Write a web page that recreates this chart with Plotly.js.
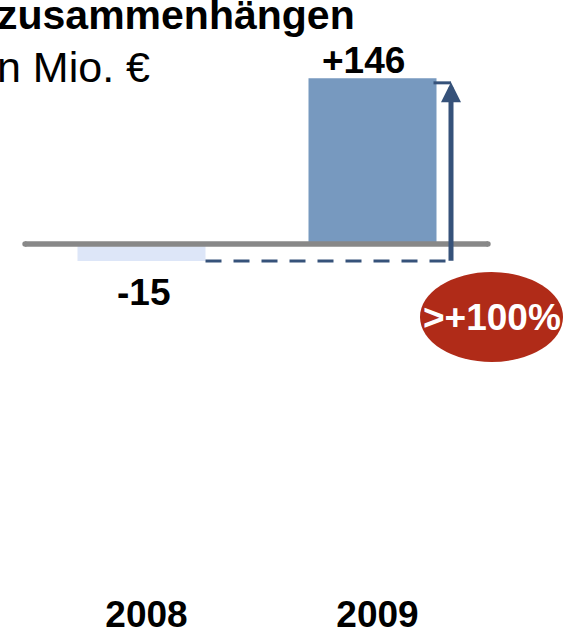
<!DOCTYPE html>
<html>
<head>
<meta charset="utf-8">
<script src="https://cdn.plot.ly/plotly-3.0.1.min.js"></script>
<style>
  html, body { margin: 0; padding: 0; background: #ffffff; }
  #chart { width: 570px; height: 633px; }
</style>
</head>
<body>
<div id="chart"></div>
<script>
// ---- data ----
const years = ['2008', '2009'];
const values = [-15, 146];
const valueLabels = ['-15', '+146'];
const titleText = 'zusammenhängen';
const subtitleText = 'n Mio. €';
const changeLabel = '>+100%';

// ---- styling ----
const W = 570, H = 633;
const MB = 44;                  // bottom margin for year labels
const PH = H - MB;              // plot height
const FONT = 'Arial, "Liberation Sans", Helvetica, sans-serif';
const barColors = ['#dde6f8', '#7799bf'];
const darkBlue = '#36527a';
const gray = '#888888';
const red = '#b02b18';

// axis scale choices (pixels)
const zeroPx = 244;
const pxPerUnit = 1.1349;
const unitPx = 231;             // distance between category centres
const firstCenterPx = 141.5;
const barWidth = 128 / unitPx;

const xRange = [-firstCenterPx / unitPx, (W - firstCenterPx) / unitPx];
const yRange = [-(PH - zeroPx) / pxPerUnit, zeroPx / pxPerUnit];

const px2x = p => p / W;
const px2y = p => (PH - p) / PH;

const shaftX = 1 + barWidth / 2 + 14.5 / unitPx;

const traces = [{
  type: 'bar',
  x: years,
  y: values,
  width: barWidth,
  marker: { color: barColors, line: { width: 0 } },
  hoverinfo: 'none'
}];

const shapes = [
  // zero line
  { type: 'line', xref: 'paper', yref: 'y', x0: px2x(25), x1: px2x(488), y0: 0, y1: 0,
    line: { color: gray, width: 5.5 } },
  { type: 'circle', xref: 'paper', yref: 'paper', fillcolor: gray, line: { width: 0 },
    x0: px2x(22.3), x1: px2x(27.8), y0: px2y(246.75), y1: px2y(241.25) },
  { type: 'circle', xref: 'paper', yref: 'paper', fillcolor: gray, line: { width: 0 },
    x0: px2x(485.2), x1: px2x(490.7), y0: px2y(246.75), y1: px2y(241.25) },
  // dashed connector from 2008 bar bottom
  { type: 'line', xref: 'x', yref: 'y', x0: 0 + barWidth / 2, x1: shaftX, y0: values[0], y1: values[0],
    line: { color: darkBlue, width: 3, dash: '16px,12px' } },
  // small top tick from 2009 bar to arrow
  { type: 'line', xref: 'x', yref: 'y', x0: 1 + barWidth / 2 - 3 / unitPx, x1: shaftX, y0: values[1] - 4, y1: values[1] - 4,
    line: { color: darkBlue, width: 3 } },
  // red ellipse
  { type: 'circle', xref: 'paper', yref: 'paper', fillcolor: red, line: { width: 0 },
    x0: px2x(420), x1: px2x(563), y0: px2y(362), y1: px2y(272) }
];

const annotations = [
  // arrow
  { x: shaftX, y: values[1] - 3.5, xref: 'x', yref: 'y', ax: shaftX, ay: values[0] - 1,
    axref: 'x', ayref: 'y', text: '', showarrow: true, arrowhead: 2, arrowsize: 0.8,
    arrowwidth: 5, arrowcolor: darkBlue },
  // value labels
  { x: 1, y: values[1], xref: 'x', yref: 'y', text: valueLabels[1], showarrow: false,
    xanchor: 'center', yanchor: 'bottom', xshift: -9, yshift: -5,
    font: { family: FONT, size: 37, color: '#000000', weight: 'bold' } },
  { x: 0, y: values[0], xref: 'x', yref: 'y', text: valueLabels[0], showarrow: false,
    xanchor: 'center', yanchor: 'top', xshift: 2, yshift: -9,
    font: { family: FONT, size: 37, color: '#000000', weight: 'bold' } },
  // change label
  { x: px2x(491.5), y: px2y(317), xref: 'paper', yref: 'paper', text: changeLabel, showarrow: false,
    xanchor: 'center', yanchor: 'middle',
    font: { family: FONT, size: 37, color: '#ffffff', weight: 'bold' } },
  // title pieces
  { x: px2x(357), y: px2y(15.5), xref: 'paper', yref: 'paper', text: titleText, showarrow: false,
    xanchor: 'right', yanchor: 'middle',
    font: { family: FONT, size: 41, color: '#000000', weight: 'bold' } },
  { x: px2x(152), y: px2y(67), xref: 'paper', yref: 'paper', text: subtitleText, showarrow: false,
    xanchor: 'right', yanchor: 'middle',
    font: { family: FONT, size: 43, color: '#000000' } }
];

const layout = {
  width: W, height: H,
  margin: { l: 0, r: 0, t: 0, b: MB, pad: 0 },
  paper_bgcolor: '#ffffff', plot_bgcolor: '#ffffff',
  showlegend: false,
  xaxis: {
    type: 'category', range: xRange, fixedrange: true,
    showgrid: false, zeroline: false, showline: false, ticks: '',
    ticklabelshift: 5, ticklabelstandoff: 0,
    tickfont: { family: FONT, size: 37, color: '#000000', weight: 'bold' }
  },
  yaxis: {
    range: yRange, fixedrange: true, showgrid: false, zeroline: false,
    showline: false, showticklabels: false, ticks: ''
  },
  shapes: shapes,
  annotations: annotations
};

Plotly.newPlot('chart', traces, layout, { staticPlot: true, displayModeBar: false });
</script>
</body>
</html>
